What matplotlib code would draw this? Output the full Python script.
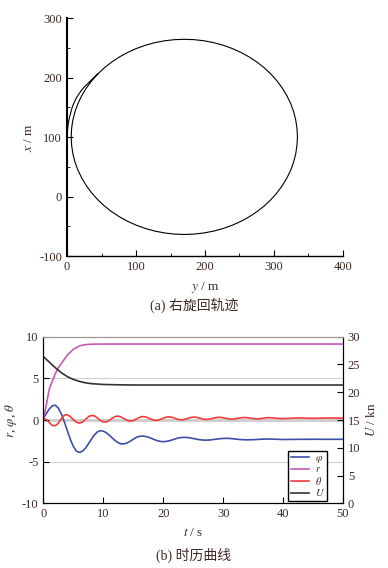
import numpy as np
import matplotlib.pyplot as plt

plt.rcParams['font.family'] = ['Liberation Serif', 'Noto Sans CJK SC']
plt.rcParams['mathtext.fontset'] = 'stix'
plt.rcParams['axes.unicode_minus'] = False

txt_color = '#3c2a22'

# (a) turning trajectory (y, x in m)
traj_y = [0, 0.5, 1, 2, 4, 6, 8, 11, 14, 17.5, 21, 25.5, 30, 37,
          44.4, 54.0, 64.6, 75.9, 88, 100.7, 113.9, 127.5, 141.5, 155.7, 170,
          184.3, 198.5, 212.4, 226.1, 239.3, 252, 264.1, 275.4, 286.0, 295.6,
          304.3, 312.0, 318.6, 324.2, 328.4, 331.5, 333.3, 334, 333.3, 331.5,
          328.4, 324.2, 318.6, 312.0, 304.3, 295.6, 286.0, 275.4, 264.1, 252,
          239.3, 226.1, 212.4, 198.5, 184.3, 170, 155.7, 141.5, 127.5, 113.9,
          100.7, 88, 75.9, 64.6, 54.0, 44.4, 35.7, 28.0, 21.4, 15.9, 11.6, 8.5,
          6.7, 6, 6.7, 8.5, 11.6, 15.9, 21.4, 28.0, 35.7, 44.4]
traj_x = [95, 105, 115, 125, 135, 144, 152, 160, 167, 173, 179, 185, 190, 198,
          205.9, 216.5, 226.1, 234.8, 242.5, 249.1, 254.6, 258.9, 262.0, 263.9,
          264.5, 263.9, 262.0, 258.9, 254.6, 249.1, 242.5, 234.8, 226.1, 216.5,
          205.9, 194.6, 182.5, 169.8, 156.6, 143.0, 129.0, 114.8, 100.5, 86.2,
          72.0, 58.0, 44.4, 31.2, 18.5, 6.4, -4.9, -15.5, -25.1, -33.8, -41.5,
          -48.1, -53.6, -57.9, -61.0, -62.9, -63.5, -62.9, -61.0, -57.9, -53.6,
          -48.1, -41.5, -33.8, -25.1, -15.5, -4.9, 6.4, 18.5, 31.2, 44.4, 58.0,
          72.0, 86.2, 100.5, 114.8, 129.0, 143.0, 156.6, 169.8, 182.5, 194.6, 205.9]

# (b) time histories
t_osc = list(np.arange(0, 40.5, 0.5)) + [42.5, 45, 47.5, 50]
phi = [0.2, 0.8, 1.35, 1.72, 1.77, 1.41, 0.70, -0.25, -1.32, -2.35, -3.19, -3.74,
       -3.90, -3.75, -3.39, -2.87, -2.31, -1.79, -1.43, -1.28, -1.34, -1.53, -1.83,
       -2.17, -2.49, -2.74, -2.87, -2.86, -2.74, -2.54, -2.31, -2.09, -1.96, -1.92,
       -1.97, -2.06, -2.20, -2.35, -2.48, -2.57, -2.60, -2.57, -2.50, -2.39, -2.27,
       -2.16, -2.10, -2.08, -2.10, -2.15, -2.22, -2.29, -2.36, -2.40, -2.42, -2.41,
       -2.38, -2.33, -2.29, -2.24, -2.21, -2.20, -2.21, -2.24, -2.28, -2.32, -2.35,
       -2.37, -2.38, -2.37, -2.36, -2.34, -2.32, -2.30, -2.29, -2.28, -2.29, -2.30,
       -2.31, -2.33, -2.34,
       -2.32, -2.31, -2.32, -2.32]
theta = [0.2, 0.04, -0.34, -0.66, -0.69, -0.35, 0.18, 0.58, 0.63, 0.40, 0.04, -0.27,
         -0.38, -0.24, 0.07, 0.39, 0.56, 0.49, 0.25, -0.05, -0.23, -0.22, -0.03, 0.23,
         0.43, 0.47, 0.35, 0.14, -0.06, -0.14, -0.07, 0.12, 0.31, 0.42, 0.38, 0.24,
         0.08, -0.03, -0.04, 0.07, 0.22, 0.34, 0.38, 0.31, 0.19, 0.07, 0.02, 0.06,
         0.17, 0.29, 0.35, 0.33, 0.24, 0.14, 0.08, 0.08, 0.15, 0.24, 0.31, 0.32,
         0.27, 0.19, 0.13, 0.11, 0.15, 0.21, 0.27, 0.30, 0.28, 0.23, 0.17, 0.14,
         0.15, 0.19, 0.25, 0.28, 0.27, 0.24, 0.20, 0.18, 0.17,
         0.25, 0.20, 0.24, 0.22]

t_r = [0, 0.5, 1, 1.5, 2, 2.5, 3, 3.5, 4, 5, 6, 7, 8, 10, 50]
r = [0.2, 1.9, 3.8, 4.7, 5.6, 6.3, 6.8, 7.3, 7.8, 8.5, 8.9, 9.05, 9.1, 9.12, 9.12]

t_u = [0, 1, 2, 3, 4, 5, 6, 7, 8, 10, 12, 15, 50]
U = [26.4, 25.4, 24.4, 23.5, 22.8, 22.3, 21.95, 21.7, 21.55, 21.4, 21.35, 21.3, 21.3]

fig = plt.figure(figsize=(3.88, 5.68), dpi=100)

# ---- (a)
ax1 = fig.add_axes([0.1727, 0.549, 0.7113, 0.419])
ax1.plot(traj_y, traj_x, color='black', lw=0.8)
ax1.set_xlim(0, 400)
ax1.set_ylim(-100, 300)
ax1.set_xticks([0, 100, 200, 300, 400])
ax1.set_yticks([-100, 0, 100, 200, 300])
ax1.set_xticks([50, 150, 250, 350], minor=True)
ax1.set_yticks([-50, 50, 150, 250], minor=True)
ax1.spines['top'].set_visible(False)
ax1.spines['right'].set_visible(False)
ax1.spines['left'].set_linewidth(1.5)
ax1.spines['bottom'].set_linewidth(1.0)
ax1.tick_params(which='both', direction='in', labelsize=9, labelcolor=txt_color)
ax1.tick_params(which='major', length=4)
ax1.tick_params(which='minor', length=2)
ax1.set_xlabel('$y$ / m', fontsize=9.5, color=txt_color, labelpad=5)
ax1.set_ylabel('$x$ / m', fontsize=9.5, color=txt_color, labelpad=3)
fig.text(0.5, 1 - 305 / 568, '(a) 右旋回轨迹', ha='center', va='center',
         fontsize=10, color=txt_color)

# ---- (b)
ax = fig.add_axes([0.112, 0.1139, 0.772, 0.2933])
for yv in [5, -5]:
    ax.axhline(yv, color='#cfcfcf', lw=0.8, zorder=0)
ax.axhline(0, color='#cccccc', lw=2.0, zorder=0)
l_phi, = ax.plot(t_osc, phi, color='#3d4fa6', lw=1.2)
l_r, = ax.plot(t_r, r, color='#c45ab8', lw=1.2)
l_th, = ax.plot(t_osc, theta, color='#f23c3c', lw=1.2)
ax.set_xlim(0, 50)
ax.set_ylim(-10, 10)
ax.set_xticks([0, 10, 20, 30, 40, 50])
ax.set_yticks([-10, -5, 0, 5, 10])
ax.set_yticklabels(['-10', '-5', '0', '5', '10'])
ax.tick_params(direction='in', length=4, labelsize=9, labelcolor=txt_color)
ax.spines['top'].set_color('#999999')
ax.set_xlabel('$t$ / s', fontsize=9.5, color=txt_color, labelpad=5)
ax.set_ylabel('$r$, $\\varphi$, $\\theta$', fontsize=9.5, color=txt_color, labelpad=2)

ax2 = ax.twinx()
l_u, = ax2.plot(t_u, U, color='#333333', lw=1.2)
ax2.set_ylim(0, 30)
ax2.set_yticks([0, 5, 10, 15, 20, 25, 30])
ax2.tick_params(direction='in', length=4, labelsize=9, labelcolor=txt_color)
ax2.spines['top'].set_color('#999999')
ax2.set_ylabel('$U$ / kn', fontsize=9.5, color=txt_color, labelpad=3)

leg = ax2.legend([l_phi, l_r, l_th, l_u],
                 ['$\\varphi$', '$r$', '$\\theta$', '$U$'],
                 loc='lower right', bbox_to_anchor=(0.947, 0.014),
                 fontsize=7.5, frameon=True, fancybox=False, framealpha=1,
                 handlelength=1.8, handletextpad=0.5, labelspacing=0.05,
                 borderpad=0.25, borderaxespad=0)
leg.get_frame().set_edgecolor('black')
leg.get_frame().set_linewidth(1.0)
for tx in leg.get_texts():
    tx.set_color(txt_color)

fig.text(0.5, 1 - 555 / 568, '(b) 时历曲线', ha='center', va='center',
         fontsize=10, color=txt_color)

fig.savefig('out.png', dpi=100)
